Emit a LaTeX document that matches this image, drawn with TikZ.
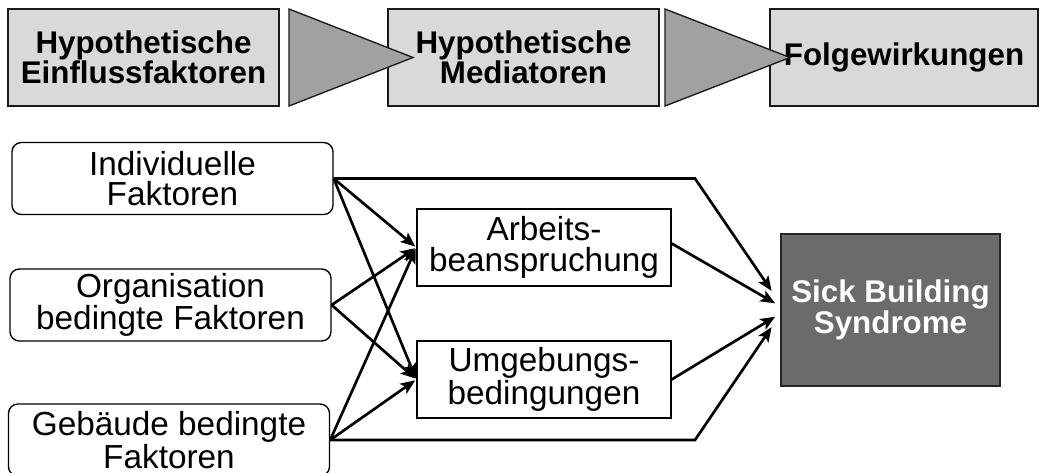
\documentclass[tikz,border=0pt]{standalone}
\usepackage{fontspec}
\setmainfont{Liberation Sans}
\usetikzlibrary{arrows.meta,positioning}
\definecolor{headgray}{gray}{0.85}
\definecolor{wedgegray}{gray}{0.63}
\definecolor{sbsgray}{RGB}{109,107,105}
\tikzset{
  phase/.style={draw=black!90, line width=1.2pt, fill=headgray, minimum height=72.75pt,
    inner sep=0pt, align=center, font=\bfseries\fontsize{23.5}{19}\selectfont},
  factor/.style={draw, rounded corners=7pt, line width=1pt, minimum width=240.75pt,
    minimum height=54pt, inner sep=0pt, align=center, font=\fontsize{25}{23}\selectfont},
  mediator/.style={draw, line width=1pt, minimum width=190.5pt, minimum height=57.75pt,
    inner sep=0pt, align=center, font=\fontsize{25}{23}\selectfont},
  outcome/.style={draw=black!85, line width=1pt, fill=sbsgray, text=white,
    minimum width=164.25pt, minimum height=114pt, inner sep=0pt, align=center,
    font=\bfseries\fontsize{23.5}{23}\selectfont},
  wedge/.style={draw=black!90, line width=1pt, fill=wedgegray}
}
\begin{document}
\begin{tikzpicture}[x=0.75pt,y=-0.75pt,->,>={Stealth[length=11pt,width=9pt,inset=2.5pt]},
  shorten >=1pt,line width=2pt]
\useasboundingbox (0,0) rectangle (1044,472);

% phases
\node[phase, minimum width=203.25pt] (h1) at (143.5,57.5) {Hypothetische\\Einflussfaktoren};
\node[phase, minimum width=203.25pt] (h2) at (523.5,57.5) {Hypothetische\\Mediatoren};
\node[phase, minimum width=201pt] (h3) at (904,57.5) {Folgewirkungen};
\filldraw[wedge,-] (289,9) -- (289,106) -- (413,57.5) -- cycle;
\filldraw[wedge,-] (665,9) -- (665,106) -- (790,57.5) -- cycle;

% model
\node[factor] (ind) at (172.5,178.5) {Individuelle\\Faktoren};
\node[factor] (org) at (170.5,305) {Organisation\\bedingte Faktoren};
\node[factor] (geb) at (169,440) {Gebäude bedingte\\Faktoren};
\node[mediator] (arb) at (544,247.5) {Arbeits-\\beanspruchung};
\node[mediator] (umg) at (544,379.5) {Umgebungs-\\bedingungen};
\node[outcome] (sbs) at (890.5,310) {Sick Building\\Syndrome};
\coordinate (kink) at (695,0);

\path (ind.east) edge (arb.west)
      (ind.east) edge (umg.west)
      (org.east) edge (arb.west)
      (org.east) edge (umg.west)
      (geb.east) edge (arb.west)
      (geb.east) edge (umg.west);

\draw (ind.east) -- (ind.east -| kink) -- ([shift={(-8,-18)}]sbs.west);
\draw (geb.east) -- (geb.east -| kink) -- ([shift={(-8,16)}]sbs.west);
\draw ([yshift=3pt]arb.east) -- ([shift={(-4,-6)}]sbs.west);
\draw (umg.east) -- ([shift={(-4,6)}]sbs.west);

\end{tikzpicture}
\end{document}
